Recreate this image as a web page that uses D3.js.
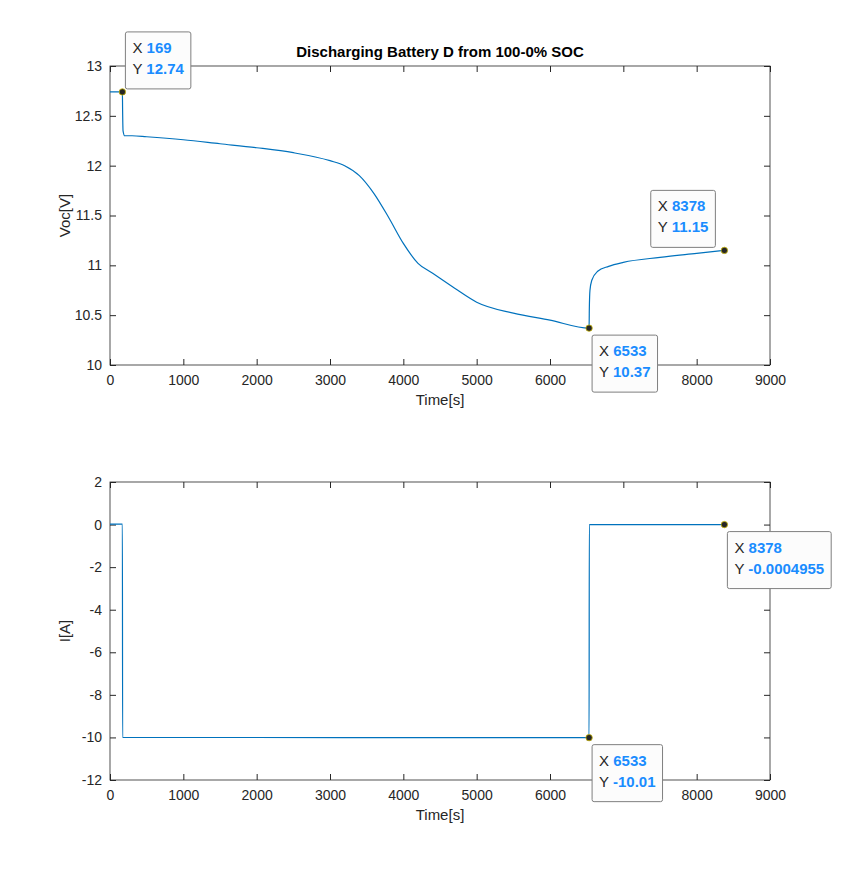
<!DOCTYPE html>
<html><head><meta charset="utf-8">
<script src="https://cdn.jsdelivr.net/npm/d3@7"></script>
<style>body{margin:0;background:#fff;font-family:Arial,"Liberation Sans",sans-serif}</style>
</head><body><div id="chart"></div>
<script>
// voltage trace [time s, V]
const vTime = [0,169,172,178,200,300,500,1000,1500,2000,2500,3000,3200,3400,3600,3800,4000,4200,4400,4700,5000,5500,6000,6533,6536,6545,6570,6650,6800,7000,7500,8000,8378];
const vVals = [12.74,12.74,12.55,12.35,12.30,12.30,12.29,12.26,12.22,12.18,12.13,12.05,12.00,11.90,11.72,11.48,11.22,11.02,10.92,10.77,10.63,10.52,10.45,10.37,10.55,10.75,10.85,10.94,10.99,11.03,11.08,11.12,11.15];
// current trace [time s, A]
const iTime = [0,169,172,6533,6536,8378];
const iVals = [0.02,0.02,-10.0,-10.01,0.0,-0.0004955];
const xTicks = [0,1000,2000,3000,4000,5000,6000,7000,8000,9000];
const vTicks = [10,10.5,11,11.5,12,12.5,13];
const iTicks = [-12,-10,-8,-6,-4,-2,0,2];
// data tips: [panel, x, y, label, side]
const tips = [
  [0,169,12.74,"12.74","ne"],[0,8378,11.15,"11.15","nw"],[0,6533,10.37,"10.37","se"],
  [1,8378,-0.0004955,"-0.0004955","se"],[1,6533,-10.01,"-10.01","se"]
];

const W = 852, H = 878, blue = "#0072BD";
const svg = d3.select("#chart").append("svg").attr("width", W).attr("height", H);

const x = d3.scaleLinear().domain([0,9000]).range([110,770]);
const panels = [
  {y: d3.scaleLinear().domain([10,13]).range([365,66]), t: vTime, v: vVals, ticks: vTicks, label: "Voc[V]"},
  {y: d3.scaleLinear().domain([-12,2]).range([780,482]), t: iTime, v: iVals, ticks: iTicks, label: "I[A]"}
];

panels.forEach(p => {
  const [y0, y1] = p.y.range();
  const g = svg.append("g");
  g.append("rect").attr("x",110).attr("y",y1).attr("width",660).attr("height",y0-y1)
    .attr("fill","#fff").attr("stroke","#262626").attr("stroke-width",0.8);
  const ax = g.append("g").attr("transform",`translate(0,${y0})`)
    .call(d3.axisBottom(x).tickValues(xTicks).tickSize(-6).tickPadding(10).tickFormat(d3.format("d")));
  const ay = g.append("g").attr("transform","translate(110,0)")
    .call(d3.axisLeft(p.y).tickValues(p.ticks).tickSize(-6).tickPadding(8).tickFormat(d => d));
  [ax, ay].forEach(a => {
    a.select(".domain").remove();
    a.selectAll("line").attr("stroke","#262626");
    a.selectAll("text").attr("font-size",14).attr("fill","#262626").attr("font-family","Arial,Liberation Sans,sans-serif");
  });
  g.append("g").attr("transform",`translate(0,${y1})`).call(d3.axisTop(x).tickValues(xTicks).tickSize(-6).tickFormat(""))
    .call(a => { a.select(".domain").remove(); a.selectAll("line").attr("stroke","#262626"); });
  g.append("g").attr("transform","translate(770,0)").call(d3.axisRight(p.y).tickValues(p.ticks).tickSize(-6).tickFormat(""))
    .call(a => { a.select(".domain").remove(); a.selectAll("line").attr("stroke","#262626"); });
  g.append("text").attr("x",440).attr("y",y0+40).attr("text-anchor","middle").attr("font-size",15).attr("fill","#262626").text("Time[s]");
  g.append("text").attr("transform",`translate(70,${(y0+y1)/2}) rotate(-90)`).attr("text-anchor","middle")
    .attr("font-size",15).attr("fill","#262626").text(p.label);
  const line = d3.line().x(d => x(d[0])).y(d => p.y(d[1])).curve(d3.curveMonotoneX);
  g.append("path").datum(p.t.map((t,i) => [t,p.v[i]])).attr("d",line)
    .attr("fill","none").attr("stroke",blue).attr("stroke-width",1.2);
});

svg.append("text").attr("x",440).attr("y",57).attr("text-anchor","middle").attr("font-size",15)
  .attr("font-weight","bold").attr("fill","#000").text("Discharging Battery D from 100-0% SOC");

tips.forEach(([k, tx, ty, lab, dir]) => {
  const px = x(tx), py = panels[k].y(ty);
  const g = svg.append("g");
  const rect = g.append("rect");
  const texts = [["X ", String(tx)], ["Y ", lab]].map((r, i) => {
    const t = g.append("text").attr("y",21+i*21).attr("x",7).attr("font-size",15);
    t.append("tspan").attr("fill","#262626").text(r[0]);
    t.append("tspan").attr("fill","#1a8cff").attr("font-weight","bold").text(r[1]);
    return t;
  });
  const w = d3.max(texts, t => t.node().getComputedTextLength()) + 14, h = 57;
  const bx = dir.includes("e") ? px + 3 : px - w - 9;
  const by = dir.includes("n") ? py - h - 3 : py + 7;
  g.attr("transform",`translate(${bx},${by})`);
  rect.attr("width",w).attr("height",h).attr("rx",2)
    .attr("fill","#fcfcfc").attr("stroke","#7f7f7f").attr("stroke-width",1);
  svg.append("circle").attr("cx",px).attr("cy",py).attr("r",3.2).attr("fill","#262626").attr("stroke","#c8b400").attr("stroke-width",0.8);
});
</script></body></html>
